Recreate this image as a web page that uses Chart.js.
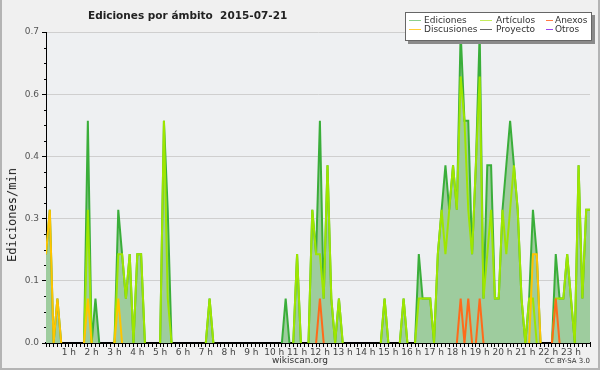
<!DOCTYPE html>
<html>
<head>
<meta charset="utf-8">
<script src="https://cdn.jsdelivr.net/npm/chart.js@4/dist/chart.umd.min.js"></script>
<style>
  html, body { margin: 0; padding: 0; background: #f0f0f0; }
  #wrap { position: relative; width: 600px; height: 370px; overflow: hidden; font-family: "DejaVu Sans", sans-serif; }
  #wrap canvas { position: absolute; left: 0; top: 0; }
  #frame { position: absolute; left: 0; top: 0; width: 596px; height: 368px; border: 2px solid #b4b4b4; border-top: none; pointer-events: none; }
  #title { position: absolute; left: 88px; top: 9px; font-weight: bold; font-size: 10.5px; color: #222; white-space: pre; }
  #ytitle { position: absolute; left: 12px; top: 215px; font-family: "DejaVu Sans Mono", monospace; font-size: 12px; color: #222;
            transform: translate(-50%, -50%) rotate(-90deg); white-space: nowrap; }
  #site { position: absolute; left: 300px; top: 355px; transform: translateX(-50%); font-size: 9px; color: #333; }
  #lic { position: absolute; right: 10px; top: 357px; font-size: 7px; color: #333; }
  #legend { position: absolute; left: 405px; top: 12px; width: 185px; height: 27px; background: #fff; border: 1px solid #666;
            box-shadow: 3px 3px 0 #8a8a8a; }
  .li { position: absolute; font-size: 9px; color: #333; white-space: nowrap; line-height: 10px; }
  .ls { position: absolute; height: 1px; width: 12px; }
</style>
</head>
<body>
<div id="wrap">
  <canvas id="chart" width="600" height="370"></canvas>
  <div id="title">Ediciones por ámbito  2015-07-21</div>
  <div id="ytitle">Ediciones/min</div>
  <div id="site">wikiscan.org</div>
  <div id="lic">CC BY-SA 3.0</div>
  <div id="legend"></div>
  <div id="frame"></div>
</div>
<script>
// time slots of 10 minutes over the day
const slotMinutes = Array.from({ length: 144 }, (_, i) => i * 10);
const yTicks = [0, 0.14, 0.28, 0.42, 0.56, 0.7];

const seriesNames  = ["Ediciones", "Artículos", "Anexos", "Discusiones", "Proyecto", "Otros"];
const seriesColors = ["#3aae3a", "#9ee600", "#ff6a1a", "#ffc400", "#555555", "#9944ee"];
const legendColors = ["#8ccf8c", "#c4ec5c", "#ff7a44", "#ffcc33", "#666666", "#9944ee"];

// edits per minute, one value per 10 min
const ediciones = [
  0.2, 0.3, 0, 0.1, 0, 0, 0, 0, 0, 0, 0, 0.5,
  0, 0.1, 0, 0, 0, 0, 0, 0.3, 0.2, 0.1, 0.2, 0,
  0.2, 0.2, 0, 0, 0, 0, 0, 0.5, 0.3, 0, 0, 0,
  0, 0, 0, 0, 0, 0, 0, 0.1, 0, 0, 0, 0,
  0, 0, 0, 0, 0, 0, 0, 0, 0, 0, 0, 0,
  0, 0, 0, 0.1, 0, 0, 0.2, 0, 0, 0, 0.3, 0.2,
  0.5, 0.1, 0.4, 0.1, 0, 0.1, 0, 0, 0, 0, 0, 0,
  0, 0, 0, 0, 0, 0.1, 0, 0, 0, 0, 0.1, 0,
  0, 0, 0.2, 0.1, 0.1, 0.1, 0, 0.2, 0.3, 0.4, 0.3, 0.4,
  0.3, 0.7, 0.5, 0.5, 0.2, 0.4, 0.7, 0.1, 0.4, 0.4, 0.1, 0.1,
  0.3, 0.4, 0.5, 0.4, 0.3, 0.1, 0, 0.1, 0.3, 0.2, 0, 0,
  0, 0, 0.2, 0.1, 0.1, 0.2, 0.1, 0, 0.4, 0.1, 0.3, 0.3
];
const articulos = [
  0, 0, 0, 0, 0, 0, 0, 0, 0, 0, 0, 0.3,
  0, 0, 0, 0, 0, 0, 0, 0.2, 0.2, 0.1, 0.2, 0,
  0.2, 0.2, 0, 0, 0, 0, 0, 0.5, 0.1, 0, 0, 0,
  0, 0, 0, 0, 0, 0, 0, 0.1, 0, 0, 0, 0,
  0, 0, 0, 0, 0, 0, 0, 0, 0, 0, 0, 0,
  0, 0, 0, 0, 0, 0, 0.2, 0, 0, 0, 0.3, 0.2,
  0.2, 0.1, 0.4, 0.1, 0, 0.1, 0, 0, 0, 0, 0, 0,
  0, 0, 0, 0, 0, 0.1, 0, 0, 0, 0, 0.1, 0,
  0, 0, 0.1, 0.1, 0.1, 0.1, 0, 0.2, 0.3, 0.2, 0.3, 0.4,
  0.3, 0.6, 0.5, 0.3, 0.2, 0.4, 0.6, 0.1, 0.2, 0.3, 0.1, 0.1,
  0.3, 0.2, 0.3, 0.4, 0.3, 0.1, 0, 0.1, 0.1, 0, 0, 0,
  0, 0, 0.1, 0.1, 0.1, 0.2, 0.1, 0, 0.4, 0.1, 0.3, 0.3
];
const anexos = [
  0, 0, 0, 0, 0, 0, 0, 0, 0, 0, 0, 0,
  0, 0, 0, 0, 0, 0, 0, 0, 0, 0, 0, 0,
  0, 0, 0, 0, 0, 0, 0, 0, 0, 0, 0, 0,
  0, 0, 0, 0, 0, 0, 0, 0, 0, 0, 0, 0,
  0, 0, 0, 0, 0, 0, 0, 0, 0, 0, 0, 0,
  0, 0, 0, 0, 0, 0, 0, 0, 0, 0, 0, 0,
  0.1, 0, 0, 0, 0, 0, 0, 0, 0, 0, 0, 0,
  0, 0, 0, 0, 0, 0, 0, 0, 0, 0, 0, 0,
  0, 0, 0, 0, 0, 0, 0, 0, 0, 0, 0, 0,
  0, 0.1, 0, 0.1, 0, 0, 0.1, 0, 0, 0, 0, 0,
  0, 0, 0, 0, 0, 0, 0, 0, 0, 0, 0, 0,
  0, 0, 0.1, 0, 0, 0, 0, 0, 0, 0, 0, 0
];
const discusiones = [
  0.2, 0.3, 0, 0.1, 0, 0, 0, 0, 0, 0, 0, 0.1,
  0, 0, 0, 0, 0, 0, 0, 0.1, 0, 0, 0, 0,
  0, 0, 0, 0, 0, 0, 0, 0, 0, 0, 0, 0,
  0, 0, 0, 0, 0, 0, 0, 0, 0, 0, 0, 0,
  0, 0, 0, 0, 0, 0, 0, 0, 0, 0, 0, 0,
  0, 0, 0, 0, 0, 0, 0, 0, 0, 0, 0, 0,
  0, 0, 0, 0, 0, 0, 0, 0, 0, 0, 0, 0,
  0, 0, 0, 0, 0, 0, 0, 0, 0, 0, 0, 0,
  0, 0, 0, 0, 0, 0, 0, 0, 0, 0, 0, 0,
  0, 0, 0, 0, 0, 0, 0, 0, 0, 0, 0, 0,
  0, 0, 0, 0, 0, 0, 0, 0, 0.2, 0.2, 0, 0,
  0, 0, 0, 0, 0, 0, 0, 0, 0, 0, 0, 0
];
const proyecto = [
  0, 0, 0, 0, 0, 0, 0, 0, 0, 0, 0, 0,
  0, 0, 0, 0, 0, 0, 0, 0, 0, 0, 0, 0,
  0, 0, 0, 0, 0, 0, 0, 0, 0, 0, 0, 0,
  0, 0, 0, 0, 0, 0, 0, 0, 0, 0, 0, 0,
  0, 0, 0, 0, 0, 0, 0, 0, 0, 0, 0, 0,
  0, 0, 0, 0, 0, 0, 0, 0, 0, 0, 0, 0,
  0, 0, 0, 0, 0, 0, 0, 0, 0, 0, 0, 0,
  0, 0, 0, 0, 0, 0, 0, 0, 0, 0, 0, 0,
  0, 0, 0, 0, 0, 0, 0, 0, 0, 0, 0, 0,
  0, 0, 0, 0, 0, 0, 0, 0, 0, 0, 0, 0,
  0, 0, 0, 0, 0, 0, 0, 0, 0, 0, 0, 0,
  0, 0, 0, 0, 0, 0, 0, 0, 0, 0, 0, 0
];
const otros = [
  0, 0, 0, 0, 0, 0, 0, 0, 0, 0, 0, 0,
  0, 0, 0, 0, 0, 0, 0, 0, 0, 0, 0, 0,
  0, 0, 0, 0, 0, 0, 0, 0, 0, 0, 0, 0,
  0, 0, 0, 0, 0, 0, 0, 0, 0, 0, 0, 0,
  0, 0, 0, 0, 0, 0, 0, 0, 0, 0, 0, 0,
  0, 0, 0, 0, 0, 0, 0, 0, 0, 0, 0, 0,
  0, 0, 0, 0, 0, 0, 0, 0, 0, 0, 0, 0,
  0, 0, 0, 0, 0, 0, 0, 0, 0, 0, 0, 0,
  0, 0, 0, 0, 0, 0, 0, 0, 0, 0, 0, 0,
  0, 0, 0, 0, 0, 0, 0, 0, 0, 0, 0, 0,
  0, 0, 0, 0, 0, 0, 0, 0, 0, 0, 0, 0,
  0, 0, 0, 0, 0, 0, 0, 0, 0, 0, 0, 0
];

const seriesData  = [ediciones, articulos, anexos, discusiones, proyecto, otros];
const drawOrder   = [10, 5, 1, 2, 4, 3];   // higher = further back

// ── legend (html, over the plot) ─────────────────────────────────
const legendEl = document.getElementById("legend");
seriesNames.forEach((name, i) => {
  const col = i % 3, row = Math.floor(i / 3);
  const sx = [3, 74, 140][col], tx = [18, 90, 149][col], y = [7, 16][row];
  const s = document.createElement("div");
  s.className = "ls";
  s.style.left = sx + "px"; s.style.top = y + "px"; s.style.background = legendColors[i];
  if (col === 2) s.style.width = "7px";
  const t = document.createElement("div");
  t.className = "li";
  t.style.left = tx + "px"; t.style.top = (y - 5) + "px";
  t.textContent = name;
  legendEl.appendChild(s); legendEl.appendChild(t);
});

// hide the line where it just runs along the zero baseline
const hideFlat = c => (c.p0.parsed.y === 0 && c.p1.parsed.y === 0) ? "rgba(0,0,0,0)" : undefined;

// ── plot background + minor y ticks ──────────────────────────────
const chrome = {
  id: "chrome",
  beforeDraw(chart) {
    const { ctx, chartArea: a } = chart;
    ctx.save();
    ctx.fillStyle = "#eef0f2";
    ctx.fillRect(a.left, a.top, a.right - a.left, a.bottom - a.top);
    ctx.restore();
  },
  afterDraw(chart) {
    const { ctx, chartArea: a } = chart;
    const y = chart.scales.y;
    ctx.save();
    ctx.strokeStyle = "#000";
    ctx.lineWidth = 1;
    for (let k = 1; k < 20; k++) {
      if (k % 4 === 0) continue;
      const py = Math.round(y.getPixelForValue(k * 0.035)) + 0.5;
      ctx.beginPath(); ctx.moveTo(a.left - 2, py); ctx.lineTo(a.left, py); ctx.stroke();
    }
    ctx.restore();
  }
};

new Chart(document.getElementById("chart"), {
  type: "line",
  data: {
    labels: slotMinutes,
    datasets: seriesNames.map((name, i) => ({
      label: name,
      data: seriesData[i],
      borderColor: seriesColors[i],
      backgroundColor: i === 0 ? "rgb(158,204,158)" : seriesColors[i],
      fill: i === 0 ? "origin" : false,
      borderWidth: 2,
      pointRadius: 0,
      tension: 0,
      order: drawOrder[i],
      segment: { borderColor: hideFlat },
    })),
  },
  options: {
    responsive: false,
    animation: false,
    events: [],
    layout: { padding: { left: 0, right: 10, top: 32, bottom: 0 } },
    plugins: { legend: { display: false }, title: { display: false }, tooltip: { enabled: false } },
    scales: {
      x: {
        type: "linear",
        min: 0,
        max: 1430,
        z: 1,
        afterFit: s => { s.height = 27; },
        afterBuildTicks: s => { s.ticks = slotMinutes.map(v => ({ value: v })); },
        border: { display: true, color: "#000", width: 2 },
        grid: { drawOnChartArea: false, drawTicks: true, tickLength: 4, tickColor: "#000" },
        ticks: {
          autoSkip: false, maxRotation: 0, padding: 0,
          color: "#444", font: { family: "DejaVu Sans", size: 9 },
          callback: v => (v > 0 && v % 60 === 0) ? (v / 60) + " h" : "",
        },
      },
      y: {
        min: 0,
        max: 0.7,
        afterFit: s => { s.width = 46; },
        afterBuildTicks: s => { s.ticks = yTicks.map(v => ({ value: v })); },
        border: { display: true, color: "#000", width: 1 },
        grid: { color: "#cfcfcf", tickColor: "#000", tickLength: 4, lineWidth: 1 },
        ticks: {
          padding: 3, color: "#555", font: { family: "DejaVu Sans", size: 9 },
          callback: v => v.toFixed(1),
        },
      },
    },
  },
  plugins: [chrome],
});
</script>
</body>
</html>
